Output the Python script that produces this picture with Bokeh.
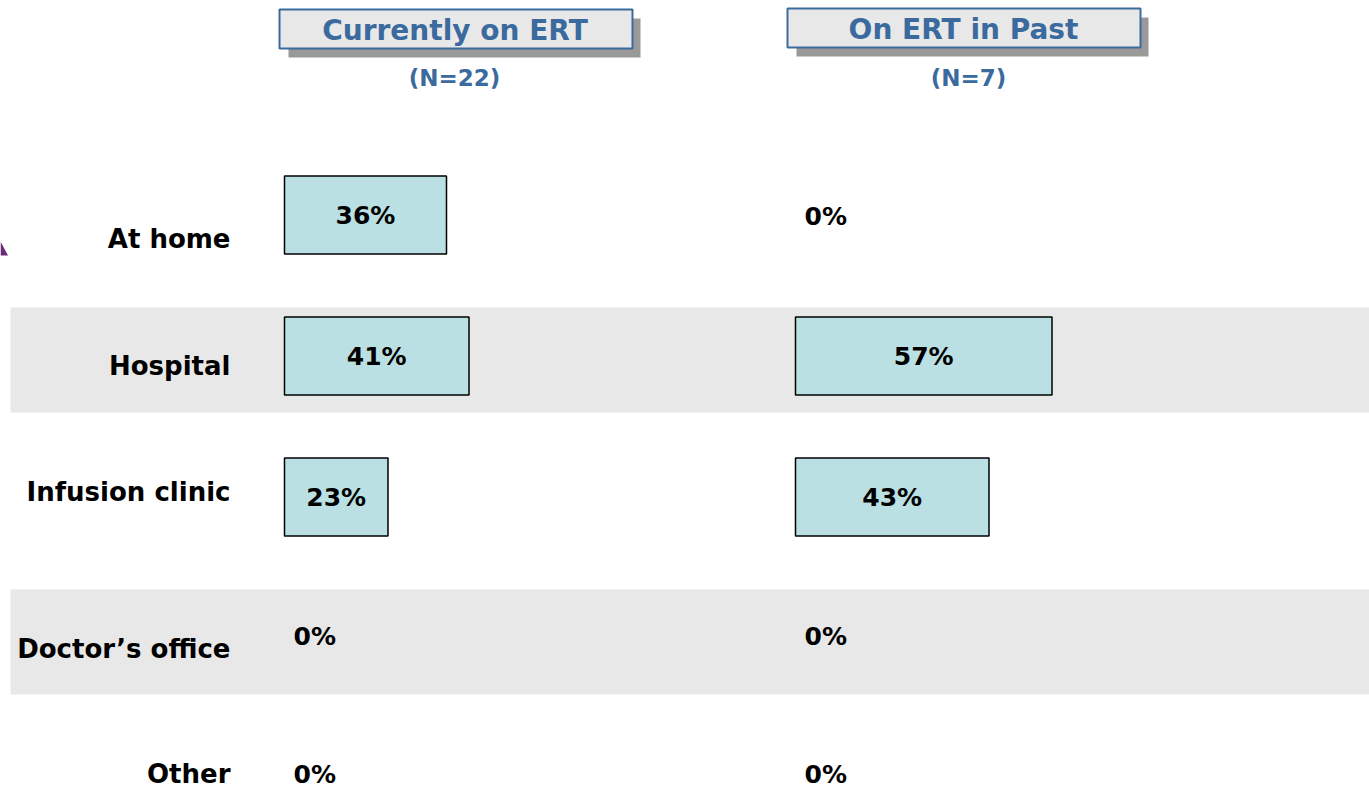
from bokeh.plotting import figure
from bokeh.models import Range1d, ColumnDataSource
from bokeh.embed import file_html
from bokeh.resources import INLINE
from bokeh.core.properties import value

# ---------------- data ----------------
categories = ["At home", "Hospital", "Infusion clinic", "Doctor\u2019s office", "Other"]
current_vals = [36, 41, 23, 0, 0]
past_vals = [0, 57, 43, 0, 0]
panel_titles = ["Currently on ERT", "On ERT in Past"]
panel_ns = ["(N=22)", "(N=7)"]
banded_rows = [1, 3]

# ---------------- layout constants (pixels) ----------------
W, H = 1369, 789
PX_PER_PCT = 4.5
ROW0 = 218.5          # screen y of first row centre
ROW_STEP = 141.0      # screen px between rows
ZERO1, ZERO2 = 284, 795                      # screen x of each panel's 0%
PANEL2_OFFSET = (ZERO2 - ZERO1) / PX_PER_PCT  # panel offset in % units
LABEL_DY = [19.5, 5.5, -9.5, 6.5, -9.5]      # row-label vertical nudges (px)
ZERO_LABEL_DY = [-2.5, -5.5, -5.5, -5.5, -8.5]  # nudges for 0% labels (px)

BAR_FILL = "#bae0e3"
BAND = "#e8e8e8"
BLUE = "#3a6a9e"
FONT = value("DejaVu Sans")


def xd(s):
    return (s - ZERO1) / PX_PER_PCT


def yd(s):
    return (ROW0 - s) / ROW_STEP


p = figure(width=W, height=H,
           x_range=Range1d(xd(0), xd(W)), y_range=Range1d(yd(H), yd(0)),
           output_backend="svg", toolbar_location=None,
           min_border=0, outline_line_color=None)
p.axis.visible = False
p.grid.visible = False
p.background_fill_color = "white"
p.border_fill_color = "white"

BAND_H = 105 / ROW_STEP
BAR_H = 78 / ROW_STEP
BAR_OFF = 4 / ROW_STEP

# alternating bands
for r in banded_rows:
    p.quad(left=xd(10), right=xd(W + 5), top=-r + BAND_H / 2, bottom=-r - BAND_H / 2,
           fill_color=BAND, line_color=None)

# decorative purple corner (cut off slide element)
p.patch(x=[xd(0), xd(7.5), xd(0)], y=[yd(241), yd(255), yd(255)],
        fill_color="#6a2a78", line_color=None)

panels = [
    (current_vals, 0.0, (279, 9, 632, 48), (454.5, 30), (454, 77)),
    (past_vals, PANEL2_OFFSET, (787, 8, 1140, 47), (963, 29), (968, 77)),
]

for k, (vals, off, box, txy, nxy) in enumerate(panels):
    bx0, by0, bx1, by1 = box
    p.quad(left=xd(bx0 + 9), right=xd(bx1 + 8), top=yd(by0 + 9), bottom=yd(by1 + 9),
           fill_color="#999999", line_color=None)
    p.quad(left=xd(bx0), right=xd(bx1), top=yd(by0), bottom=yd(by1),
           fill_color="#e8e8e8", line_color=BLUE, line_width=2)
    p.text(x=[xd(txy[0])], y=[yd(txy[1])], text=[panel_titles[k]],
           text_font=FONT, text_font_style="bold", text_font_size="28px",
           text_color=BLUE, text_align="center", text_baseline="middle")
    p.text(x=[xd(nxy[0])], y=[yd(nxy[1])], text=[panel_ns[k]],
           text_font=FONT, text_font_style="bold", text_font_size="23px",
           text_color=BLUE, text_align="center", text_baseline="middle")

    idx = [i for i, v in enumerate(vals) if v > 0]
    src = ColumnDataSource(dict(
        left=[off] * len(idx),
        right=[off + vals[i] for i in idx],
        top=[-i + BAR_OFF + BAR_H / 2 for i in idx],
        bottom=[-i + BAR_OFF - BAR_H / 2 for i in idx]))
    p.quad(left="left", right="right", top="top", bottom="bottom", source=src,
           fill_color=BAR_FILL, line_color="black", line_width=1.5)

    xs, ys, ts, aligns = [], [], [], []
    for i, v in enumerate(vals):
        ts.append(f"{v}%")
        if v > 0:
            xs.append(off + v / 2)
            ys.append(-i + BAR_OFF)
            aligns.append("center")
        else:
            xs.append(off + 9 / PX_PER_PCT)
            ys.append(-i - ZERO_LABEL_DY[i] / ROW_STEP)
            aligns.append("left")
    lsrc = ColumnDataSource(dict(x=xs, y=ys, t=ts, a=aligns))
    p.text(x="x", y="y", text="t", source=lsrc, text_align="a",
           text_font=FONT, text_font_style="bold", text_font_size="25px",
           text_color="black", text_baseline="middle")

# row labels
p.text(x=[xd(230)] * len(categories),
       y=[-i - LABEL_DY[i] / ROW_STEP for i in range(len(categories))],
       text=categories, text_font=FONT, text_font_style="bold", text_font_size="26px",
       text_color="black", text_align="right", text_baseline="middle")

open("out.html", "w").write(file_html(p, INLINE))
